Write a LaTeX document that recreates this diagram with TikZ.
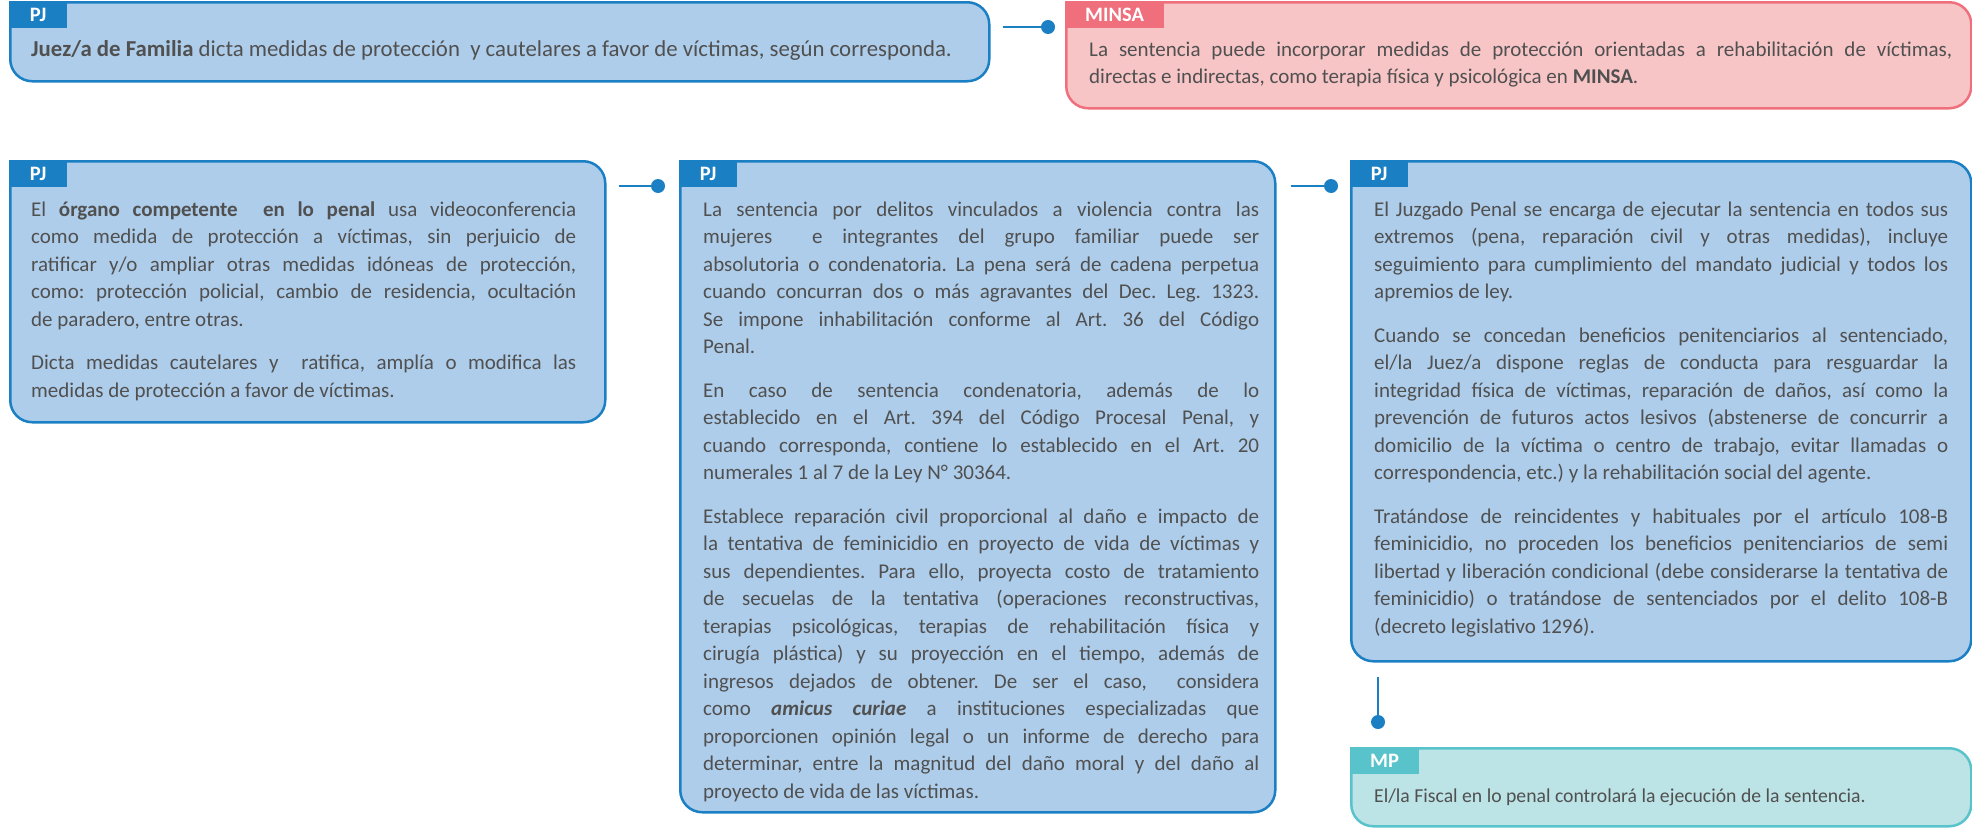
\documentclass[tikz,border=0pt]{standalone}
\usepackage{fontspec}
\setmainfont{Carlito}
\usetikzlibrary{positioning, calc}
\definecolor{pjblue}{HTML}{1B7FC4}
\definecolor{pjfill}{HTML}{AECDEA}
\definecolor{msred}{HTML}{EF6F7C}
\definecolor{msfill}{HTML}{F8C5C7}
\definecolor{mpteal}{HTML}{59C3CB}
\definecolor{mpfill}{HTML}{BCE3E5}
\definecolor{txtgray}{HTML}{505050}
\tikzstyle{card} = [draw, line width=2.5pt, rounded corners=22pt, inner sep=0pt]
\tikzstyle{tag} = [anchor=north west, inner xsep=20pt, inner ysep=0pt,
   minimum width=58pt, minimum height=27pt, text=white,
   font=\fontsize{20.5}{20.5}\selectfont\bfseries]
\tikzstyle{txt} = [inner sep=0pt, text=txtgray,
   font=\fontsize{21}{27.5}\selectfont, execute at begin node=\strut]
\tikzstyle{para} = [txt, align=justify]
\tikzstyle{dot} = [circle, fill=pjblue, inner sep=0pt, minimum size=14pt]
\tikzstyle{link} = [draw=pjblue, line width=1.6pt]
\hbadness=10000
\hyphenpenalty=10000
\exhyphenpenalty=10000
\frenchspacing
\begin{document}
\begin{tikzpicture}[x=1pt, y=1pt]
  \useasboundingbox (0,0) rectangle (1972,-827);

  % boxes
  \node[card, draw=pjblue, fill=pjfill, anchor=north west, minimum width=979pt, minimum height=79pt] (fam) at (9,-1) {};
  \node[card, draw=msred, fill=msfill, right=74.5pt of fam.north east, anchor=north west, minimum width=905pt, minimum height=106pt] (minsa) {};
  \node[card, draw=pjblue, fill=pjfill, below=77.5pt of fam.south west, anchor=north west, minimum width=595pt, minimum height=261pt] (org) {};
  \node[card, draw=pjblue, fill=pjfill, right=72.5pt of org.north east, anchor=north west, minimum width=595pt, minimum height=651pt] (sent) {};
  \node[card, draw=pjblue, fill=pjfill, right=73.5pt of sent.north east, anchor=north west, minimum width=620pt, minimum height=500pt] (exec) {};
  \node[card, draw=mpteal, fill=mpfill, below=84.5pt of exec.south west, anchor=north west, minimum width=620pt, minimum height=78pt] (mp) {};

  % tags
  \node[tag, fill=pjblue] (famtag) at (fam.north west) {PJ};
  \node[tag, fill=msred] (minsatag) at (minsa.north west) {MINSA};
  \node[tag, fill=pjblue] (orgtag) at (org.north west) {PJ};
  \node[tag, fill=pjblue] (senttag) at (sent.north west) {PJ};
  \node[tag, fill=pjblue] (exectag) at (exec.north west) {PJ};
  \node[tag, fill=mpteal] (mptag) at (mp.north west) {MP};

  % texts
  \node[txt, font=\fontsize{22.8}{27.5}\selectfont, below right=36pt and 22pt of fam.north west] (famtxt) {\textbf{Juez/a de Familia} dicta medidas de protección~ y cautelares a favor de víctimas, según corresponda.};
  \node[para, text width=863pt, below right=36pt and 24pt of minsa.north west] (minsatxt) {La sentencia puede incorporar medidas de protección orientadas a rehabilitación de víctimas,\linebreak
    directas e indirectas, como terapia física y psicológica en \textbf{MINSA}.};
  \node[para, text width=545pt, below right=37pt and 22pt of org.north west] (orgtxt) {El \textbf{órgano competente~ en lo penal} usa videoconferencia\linebreak
    como medida de protección a víctimas, sin perjuicio de\linebreak
    ratificar y/o ampliar otras medidas idóneas de protección,\linebreak
    como: protección policial, cambio de residencia, ocultación\linebreak
    de paradero, entre otras.\\[16pt]
    Dicta medidas cautelares y~ ratifica, amplía o modifica las\linebreak
    medidas de protección a favor de víctimas.};
  \node[para, text width=556pt, below right=37pt and 24pt of sent.north west] (senttxt) {La sentencia por delitos vinculados a violencia contra las\linebreak
    mujeres~ e integrantes del grupo familiar puede ser\linebreak
    absolutoria o condenatoria. La pena será de cadena perpetua\linebreak
    cuando concurran dos o más agravantes del Dec. Leg. 1323.\linebreak
    Se impone inhabilitación conforme al Art. 36 del Código\linebreak
    Penal.\\[16pt]
    En caso de sentencia condenatoria, además de lo\linebreak
    establecido en el Art. 394 del Código Procesal Penal, y\linebreak
    cuando corresponda, contiene lo establecido en el Art. 20\linebreak
    numerales 1 al 7 de la Ley N° 30364.\\[16pt]
    Establece reparación civil proporcional al daño e impacto de\linebreak
    la tentativa de feminicidio en proyecto de vida de víctimas y\linebreak
    sus dependientes. Para ello, proyecta costo de tratamiento\linebreak
    de secuelas de la tentativa (operaciones reconstructivas,\linebreak
    terapias psicológicas, terapias de rehabilitación física y\linebreak
    cirugía plástica) y su proyección en el tiempo, además de\linebreak
    ingresos dejados de obtener. De ser el caso,~ considera\linebreak
    como \textbf{\textit{amicus curiae}} a instituciones especializadas que\linebreak
    proporcionen opinión legal o un informe de derecho para\linebreak
    determinar, entre la magnitud del daño moral y del daño al\linebreak
    proyecto de vida de las víctimas.};
  \node[para, text width=574pt, below right=37pt and 24pt of exec.north west] (exectxt) {El Juzgado Penal se encarga de ejecutar la sentencia en todos sus\linebreak
    extremos (pena, reparación civil y otras medidas), incluye\linebreak
    seguimiento para cumplimiento del mandato judicial y todos los\linebreak
    apremios de ley.\\[16pt]
    Cuando se concedan beneficios penitenciarios al sentenciado,\linebreak
    el/la Juez/a dispone reglas de conducta para resguardar la\linebreak
    integridad física de víctimas, reparación de daños, así como la\linebreak
    prevención de futuros actos lesivos (abstenerse de concurrir a\linebreak
    domicilio de la víctima o centro de trabajo, evitar llamadas o\linebreak
    correspondencia, etc.) y la rehabilitación social del agente.\\[16pt]
    Tratándose de reincidentes y habituales por el artículo 108-B\linebreak
    feminicidio, no proceden los beneficios penitenciarios de semi\linebreak
    libertad y liberación condicional (debe considerarse la tentativa de\linebreak
    feminicidio) o tratándose de sentenciados por el delito 108-B\linebreak
    (decreto legislativo 1296).};
  \node[txt, font=\fontsize{19.7}{27.5}\selectfont, below right=36pt and 24pt of mp.north west] (mptxt) {El/la Fiscal en lo penal controlará la ejecución de la sentencia.};

  % connectors
  \coordinate (famout) at ($(fam.north east)+(12pt,-26pt)$); % free end
  \node[dot] (famdot) at ($(minsa.north west)+(-17pt,-26pt)$) {};
  \draw[link] (famout) -- (famdot);
  \coordinate (orgout) at ($(org.north east)+(12pt,-26pt)$);
  \node[dot] (orgdot) at ($(sent.north west)+(-21pt,-26pt)$) {};
  \draw[link] (orgout) -- (orgdot);
  \coordinate (sentout) at ($(sent.north east)+(14pt,-26pt)$);
  \node[dot] (sentdot) at ($(exec.north west)+(-19pt,-26pt)$) {};
  \draw[link] (sentout) -- (sentdot);
  \coordinate (execout) at ($(exec.south west)+(28pt,-14pt)$);
  \node[dot] (execdot) at ($(mp.north west)+(28pt,25pt)$) {};
  \draw[link] (execout) -- (execdot);
\end{tikzpicture}
\end{document}
